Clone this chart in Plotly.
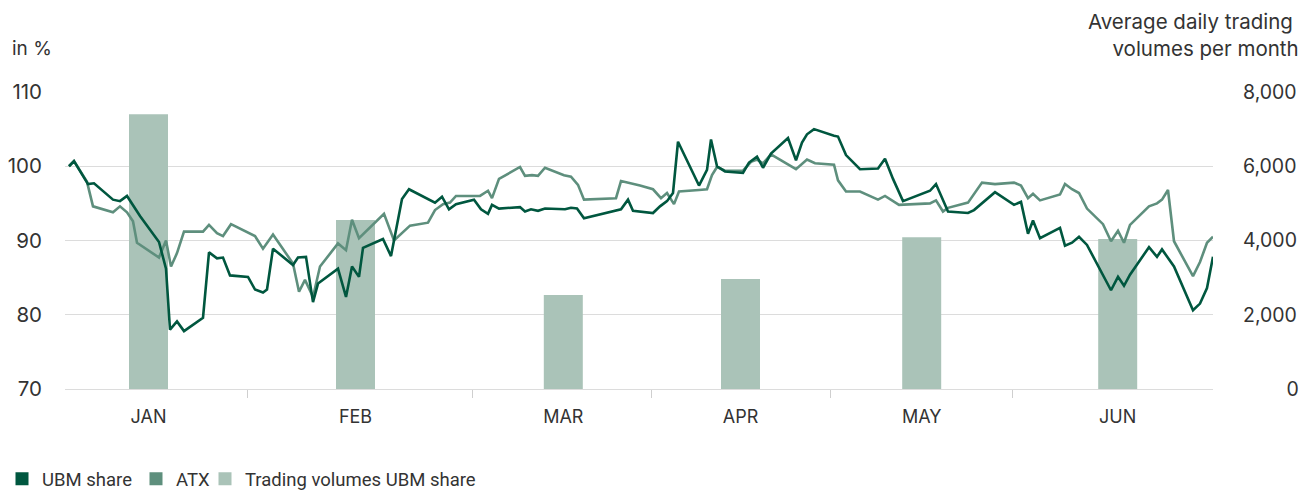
import plotly.graph_objects as go

# ---- data (x = trading-day position along the half-year, y = indexed value in %) ----
ubm_x = [0.4, 0.9, 2.3, 2.9, 4.8, 5.5, 6.2, 6.8, 7.5, 9.4, 10.1, 10.5, 11.2, 11.9, 13.8, 14.4, 15.2, 15.8,
         16.5, 18.3, 19.0, 19.8, 20.2, 20.8, 22.8, 23.3, 24.1, 24.8, 25.3, 27.3, 28.1, 28.7, 29.4, 29.8,
         31.8, 32.6, 33.7, 34.4, 37.0, 37.7, 38.4, 39.1, 40.9, 41.6, 42.3, 42.7, 43.4, 45.5, 46.0, 46.6,
         47.3, 48.0, 50.0, 50.6, 51.2, 51.9, 55.0, 55.6, 56.3, 56.8, 58.8, 59.5, 60.2, 60.8, 61.3, 63.4,
         64.2, 64.6, 65.2, 66.0, 67.8, 68.4, 69.2, 69.8, 70.6, 72.3, 73.1, 73.7, 74.2, 74.9, 76.9, 77.3,
         78.1, 79.5, 81.3, 82.0, 82.8, 83.8, 86.5, 87.1, 88.3, 90.3, 90.9, 93.0, 94.9, 95.6, 96.3, 96.8,
         97.5, 99.5, 100.0, 100.7, 101.4, 102.2, 104.6, 105.3, 105.9, 106.5, 108.4, 109.2, 109.7, 110.9,
         112.8, 113.5, 114.2, 114.8]
ubm_y = [100.0, 100.7, 97.6, 97.7, 95.5, 95.3, 96.0, 94.8, 93.3, 89.8, 86.2, 78.0, 79.1, 77.8, 79.6, 88.4, 87.6, 87.7,
         85.3, 85.1, 83.4, 83.0, 83.4, 88.9, 86.7, 87.7, 87.8, 81.7, 84.2, 86.2, 82.4, 86.5, 85.1, 89.0,
         90.2, 87.9, 95.6, 96.9, 95.1, 95.9, 94.2, 94.9, 95.5, 94.2, 93.6, 94.8, 94.3, 94.5, 93.9, 94.2,
         94.0, 94.3, 94.2, 94.4, 94.3, 93.0, 94.0, 94.2, 95.5, 94.0, 93.7, 94.6, 95.3, 96.4, 103.3, 97.4,
         99.5, 103.6, 100.0, 99.3, 99.1, 100.5, 101.3, 99.8, 101.7, 103.8, 100.8, 103.2, 104.3, 105.0, 104.1, 104.0,
         101.5, 99.6, 99.7, 101.0, 98.3, 95.3, 96.7, 97.6, 93.9, 93.7, 94.1, 96.5, 94.8, 95.2, 90.9, 92.7,
         90.3, 91.7, 89.3, 89.7, 90.5, 89.4, 83.3, 85.1, 83.9, 85.4, 89.1, 87.8, 88.8, 86.5,
         80.6, 81.5, 83.6, 87.8]

atx_x = [0.4, 0.9, 2.2, 2.8, 4.8, 5.5, 6.2, 6.8, 7.2, 9.4, 10.1, 10.6, 11.2, 11.9, 13.8, 14.4, 15.2, 15.8,
         16.6, 19.0, 19.8, 20.8, 22.8, 23.4, 24.0, 24.8, 25.5, 27.3, 28.1, 28.7, 29.4, 31.9, 32.9, 34.5,
         36.3, 37.0, 37.8, 38.5, 39.1, 41.5, 42.3, 42.7, 43.4, 45.5, 46.0, 46.7, 47.3, 48.0, 49.9, 50.6,
         51.3, 51.9, 55.1, 55.6, 57.5, 58.8, 59.6, 60.2, 60.9, 61.4, 63.4, 64.2, 64.7, 65.2, 66.0, 67.8,
         68.6, 69.2, 69.8, 70.6, 73.1, 74.2, 75.0, 76.9, 77.3, 78.1, 79.5, 81.3, 82.0, 83.4, 86.5, 87.1,
         87.8, 88.3, 90.3, 91.7, 93.0, 94.9, 95.6, 96.3, 96.8, 97.5, 99.5, 100.0, 100.7, 101.4, 102.2, 103.8,
         104.6, 105.3, 105.9, 106.5, 108.4, 109.2, 109.7, 110.3, 110.9, 112.8, 113.5, 114.2, 114.8]
atx_y = [100.0, 100.7, 97.9, 94.6, 93.8, 94.6, 93.8, 92.6, 89.7, 87.7, 90.0, 86.5, 88.3, 91.2, 91.2, 92.1, 91.0, 90.6,
         92.2, 90.6, 88.9, 90.8, 86.9, 83.1, 84.7, 82.4, 86.5, 89.6, 88.7, 92.8, 90.3, 93.6, 90.0, 92.0,
         92.4, 94.1, 94.9, 95.1, 96.0, 96.0, 96.7, 95.7, 98.3, 99.9, 98.7, 98.8, 98.7, 99.8, 98.8, 98.6,
         97.5, 95.5, 95.7, 98.0, 97.4, 96.9, 95.7, 96.4, 94.9, 96.6, 96.8, 96.9, 98.8, 99.9, 99.4, 99.4,
         100.6, 100.9, 100.4, 101.6, 99.6, 100.9, 100.4, 100.2, 98.1, 96.6, 96.6, 95.5, 96.0, 94.8, 95.0, 95.4,
         93.9, 94.4, 95.1, 97.8, 97.6, 97.8, 97.4, 95.7, 96.3, 95.4, 96.2, 97.6, 96.9, 96.4, 94.3, 92.2,
         89.9, 91.3, 89.7, 92.1, 94.6, 95.0, 95.5, 96.8, 89.9, 85.2, 87.1, 89.7, 90.5]

months = ["JAN", "FEB", "MAR", "APR", "MAY", "JUN"]
month_pos = [8.35, 29.05, 49.83, 67.55, 85.67, 105.27]
month_bounds = [18.2, 40.7, 58.6, 76.5, 94.7]
volumes = [7400, 4550, 2530, 2960, 4090, 4040]

left_ticks = [70, 80, 90, 100, 110]
right_ticks = [0, 2000, 4000, 6000, 8000]
right_ticktext = ["\u2007\u2007\u2007\u20080", "2,000", "4,000", "6,000", "8,000"]

legend_names = ["UBM share", "ATX", "Trading volumes UBM share"]

C_UBM = "#00573F"
C_ATX = "#5E8F7D"
C_VOL = "#AAC3B8"
TXT = "#333333"
GRID = "#DCDCDC"
FONT = "Inter"

fig = go.Figure()

fig.add_trace(go.Bar(x=month_pos, y=volumes, width=3.9, marker=dict(color=C_VOL, line=dict(width=0)),
                     yaxis="y", showlegend=False, hoverinfo="skip"))
fig.add_trace(go.Scatter(x=atx_x, y=atx_y, mode="lines", line=dict(color=C_ATX, width=2.6),
                         yaxis="y2", showlegend=False))
fig.add_trace(go.Scatter(x=ubm_x, y=ubm_y, mode="lines", line=dict(color=C_UBM, width=2.6),
                         yaxis="y2", showlegend=False))

for name, col, lg in zip(legend_names, [C_UBM, C_ATX, C_VOL], ["legend", "legend2", "legend3"]):
    fig.add_trace(go.Scatter(x=[None], y=[None], mode="markers", name=name, legend=lg,
                             marker=dict(symbol="square", size=13, color=col), yaxis="y2"))

leg_common = dict(orientation="h", xref="container", yref="container", y=0.024,
                  xanchor="left", yanchor="middle", font=dict(family="Roboto", size=18.5, color=TXT),
                  itemwidth=30, bgcolor="rgba(0,0,0,0)")

fig.update_layout(
    width=1311, height=491,
    margin=dict(l=65, r=98, t=92, b=102, autoexpand=False),
    plot_bgcolor="white", paper_bgcolor="white",
    barmode="overlay",
    font=dict(family=FONT, size=18, color=TXT),
    xaxis=dict(range=[0, 114.8], tickmode="array", tickvals=month_pos, ticktext=months, automargin=False,
               ticks="outside", ticklen=0, tickcolor="rgba(0,0,0,0)", ticklabelstandoff=11,
               showgrid=False, zeroline=False, showline=True, linecolor=GRID, linewidth=1,
               tickfont=dict(family=FONT, size=18, color=TXT),
               minor=dict(tickmode="array", tickvals=month_bounds, ticks="outside", ticklen=8,
                          tickcolor="#CFCFCF", tickwidth=1, showgrid=False)),
    yaxis=dict(range=[0, 8000], side="right", tickmode="array", tickvals=right_ticks, ticktext=right_ticktext,
               showgrid=True, gridcolor=GRID, gridwidth=1, zeroline=False, showline=False, automargin=False,
               ticks="", ticklabelstandoff=29, tickfont=dict(family=FONT, size=19.5, color=TXT)),
    yaxis2=dict(range=[70, 110], side="left", overlaying="y", tickmode="array", tickvals=left_ticks,
                showgrid=False, zeroline=False, showline=False, ticks="", ticklabelstandoff=22, automargin=False,
                tickfont=dict(family=FONT, size=20.5, color=TXT)),
    legend=dict(x=2 / 1311, **leg_common),
    legend2=dict(x=136 / 1311, **leg_common),
    legend3=dict(x=205 / 1311, **leg_common),
    annotations=[
        dict(text="in %", xref="paper", yref="paper", x=-0.0462, xshift=-2, y=1.148, xanchor="left",
             yanchor="middle", showarrow=False, font=dict(family=FONT, size=19, color=TXT)),
        dict(text="Average daily trading <br>volumes per month", xref="paper", yref="paper", x=1, xshift=88,
             y=1.192, xanchor="right", yanchor="middle", align="right", showarrow=False,
             font=dict(family=FONT, size=20.5, color=TXT)),
    ],
)

fig.write_html("out.html", config={"displayModeBar": False},
               post_script="document.body.style.margin='0';document.body.style.overflow='hidden';")
